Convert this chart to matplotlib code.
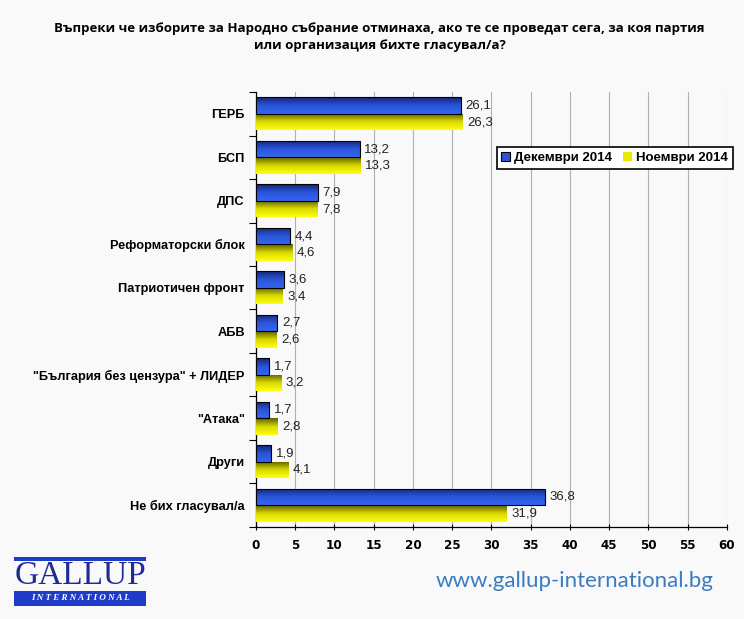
import matplotlib.pyplot as plt
import numpy as np
from matplotlib.colors import LinearSegmentedColormap
from matplotlib.patches import Rectangle

categories = ['ГЕРБ', 'БСП', 'ДПС', 'Реформаторски блок', 'Патриотичен фронт', 'АБВ',
              '"България без цензура" + ЛИДЕР', '"Атака"', 'Други', 'Не бих гласувал/а']
dec_2014 = [26.1, 13.2, 7.9, 4.4, 3.6, 2.7, 1.7, 1.7, 1.9, 36.8]
nov_2014 = [26.3, 13.3, 7.8, 4.6, 3.4, 2.6, 3.2, 2.8, 4.1, 31.9]
series_labels = ['Декември 2014', 'Ноември 2014']
title = ('Въпреки че изборите за Народно събрание отминаха, ако те се проведат сега, за коя партия\n'
         'или организация бихте гласувал/а?')

blue_cmap = LinearSegmentedColormap.from_list('b', ['#13267a', '#2a55d8', '#3366f0'])
yellow_cmap = LinearSegmentedColormap.from_list('y', ['#5e5e00', '#d8d800', '#ffff10'])

fig = plt.figure(figsize=(7.44, 6.19), dpi=100)
fig.patch.set_facecolor('#f9f9f9')
ax = fig.add_axes([0.344, 0.149, 0.633, 0.702])
ax.set_facecolor('#f9f9f9')

y = np.arange(len(categories))
h = 0.38
bars_dec = ax.barh(y - h / 2, dec_2014, height=h, color='#2a55d8', edgecolor='black', linewidth=0.8,
                   label=series_labels[0], zorder=3)
bars_nov = ax.barh(y + h / 2, nov_2014, height=h, color='#e0e000', edgecolor='none',
                   label=series_labels[1], zorder=3)

# vertical gradient fill clipped to each bar
grad = np.linspace(0, 1, 64).reshape(-1, 1)
for bars, cmap in [(bars_dec, blue_cmap), (bars_nov, yellow_cmap)]:
    for b in bars:
        x0, y0, w, hh = b.get_x(), b.get_y(), b.get_width(), b.get_height()
        im = ax.imshow(grad, cmap=cmap, aspect='auto', origin='lower',
                       extent=[x0, x0 + w, y0, y0 + hh], zorder=3.5)
        im.set_clip_path(b)
        if bars is bars_dec:
            b.set_facecolor('none')
            b.set_zorder(4)

for bars, vals in [(bars_dec, dec_2014), (bars_nov, nov_2014)]:
    for b, v in zip(bars, vals):
        ax.text(b.get_width() + 0.6, b.get_y() + b.get_height() / 2, f'{v:.1f}'.replace('.', ','),
                va='center', ha='left', fontsize=9.5, color='#222222', family='Liberation Sans', zorder=5)

ax.set_xlim(0, 60)
ax.set_ylim(len(categories) - 0.5, -0.5)
ax.set_xticks(np.arange(0, 61, 5))
ax.set_yticks(y)
ax.set_yticklabels(categories, fontsize=9.2, fontweight='bold', family='Liberation Sans')
ax.tick_params(axis='y', length=0, pad=8)
ax.set_yticks(np.arange(-0.5, len(categories), 1), minor=True)
ax.tick_params(axis='y', which='minor', length=5, width=0.8, direction='out')
ax.tick_params(axis='x', length=5, width=0.8, direction='inout', pad=6)
for lab in ax.get_xticklabels():
    lab.set_fontsize(9.5)
    lab.set_fontweight('bold')
    lab.set_family('DejaVu Sans')
    lab.set_fontstretch('condensed')
ax.grid(axis='x', color='#b0b0b0', linewidth=0.8, zorder=0)
for s in ['top', 'right']:
    ax.spines[s].set_visible(False)
ax.spines['left'].set_linewidth(0.9)
ax.spines['bottom'].set_linewidth(0.9)

handles = [Rectangle((0, 0), 1, 1, facecolor='#2a55d8', edgecolor='black', linewidth=0.8),
           Rectangle((0, 0), 1, 1, facecolor='#e8e800', edgecolor='none')]
leg = fig.legend(handles, series_labels, loc='center', bbox_to_anchor=(0.826, 0.745), ncol=2,
                 frameon=True, fancybox=False, edgecolor='black', framealpha=1,
                 prop={'family': 'Liberation Sans', 'weight': 'bold', 'size': 9.5},
                 handlelength=0.7, handleheight=0.7, handletextpad=0.3, columnspacing=0.8,
                 borderpad=0.35)
leg.get_frame().set_linewidth(1.2)

fig.text(0.51, 0.94, title, ha='center', va='center', fontsize=9.5, fontweight='bold',
         family='Open Sans', linespacing=1.4)

# logo
fig.patches.append(Rectangle((14 / 744, 1 - 561 / 619), 132 / 744, 4 / 619, transform=fig.transFigure,
                             facecolor='#1f3cc8', edgecolor='none'))
fig.patches.append(Rectangle((14 / 744, 1 - 606 / 619), 132 / 744, 15 / 619, transform=fig.transFigure,
                             facecolor='#1f3cc8', edgecolor='none'))
fig.text(80 / 744, 1 - 576 / 619, 'GALLUP', ha='center', va='center', fontsize=24, color='#1f2a99',
         family='Liberation Serif')
fig.text(80 / 744, 1 - 598.5 / 619, 'I N T E R N A T I O N A L', ha='center', va='center', fontsize=6.5,
         color='white', family='Liberation Serif', style='italic', fontweight='bold')

fig.text(575 / 744, 1 - 581 / 619, 'www.gallup-international.bg', ha='center', va='center', fontsize=16,
         color='#3a7cc4', family='Lato')

fig.savefig('out.png', dpi=100, facecolor=fig.get_facecolor())
